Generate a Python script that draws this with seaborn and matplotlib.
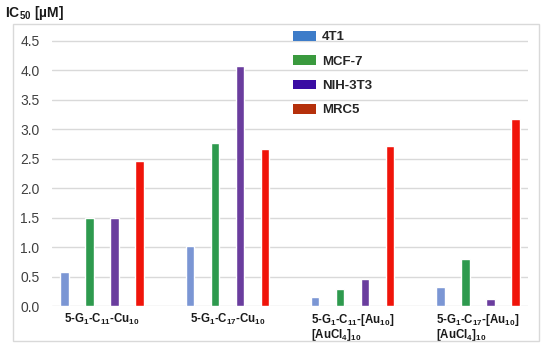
import matplotlib
matplotlib.use("Agg")
import matplotlib.pyplot as plt
import seaborn as sns
import pandas as pd
from matplotlib.patches import Patch, Rectangle

compounds = [
    "5-G$_1$-C$_{11}$-Cu$_{10}$",
    "5-G$_1$-C$_{17}$-Cu$_{10}$",
    "5-G$_1$-C$_{11}$-[Au$_{10}$]\n[AuCl$_4$]$_{10}$",
    "5-G$_1$-C$_{17}$-[Au$_{10}$]\n[AuCl$_4$]$_{10}$",
]
cell_lines = ["4T1", "MCF-7", "NIH-3T3", "MRC5"]
ic50_4t1 = [0.58, 1.02, 0.15, 0.32]
ic50_mcf7 = [1.50, 2.76, 0.29, 0.80]
ic50_nih3t3 = [1.50, 4.08, 0.46, 0.12]
ic50_mrc5 = [2.47, 2.67, 2.72, 3.18]
y_ticks = [0.0, 0.5, 1.0, 1.5, 2.0, 2.5, 3.0, 3.5, 4.0, 4.5]

bar_colors = ["#7b96d4", "#2e9a4e", "#6a3d9e", "#f0140a"]
legend_colors = ["#3d7cc9", "#3a9a3e", "#3a0ca3", "#b5300b"]

rows = []
for line, vals in zip(cell_lines, [ic50_4t1, ic50_mcf7, ic50_nih3t3, ic50_mrc5]):
    for c, v in zip(compounds, vals):
        rows.append({"compound": c, "line": line, "value": v})
df = pd.DataFrame(rows)

sns.set_theme(style="white")
plt.rcParams["font.family"] = ["Liberation Sans", "DejaVu Sans"]
plt.rcParams["mathtext.default"] = "regular"

fig = plt.figure(figsize=(5.5, 3.46), dpi=100)
ax = fig.add_axes([52 / 550, 1 - 306 / 346, (528 - 52) / 550, (306 - 38) / 346])

sns.barplot(data=df, x="compound", y="value", hue="line", order=compounds,
            hue_order=cell_lines, palette=bar_colors, width=0.8, gap=0.66,
            saturation=1, legend=False, ax=ax)

ax.set_xlim(-0.4, 3.4)
ax.set_ylim(0, 4.55)
ax.set_yticks(y_ticks)
ax.set_yticklabels([f"{t:.1f}" for t in y_ticks], fontsize=10, color="#404040")
ax.yaxis.grid(True, color="#d9d9d9", linewidth=1)
ax.set_axisbelow(True)
for s in ax.spines.values():
    s.set_visible(False)
ax.tick_params(axis="y", length=0, pad=9)
ax.tick_params(axis="x", length=0, pad=4)
for lab in ax.get_xticklabels():
    lab.set_fontsize(8.3)
    lab.set_fontweight("bold")
    lab.set_multialignment("left")
    lab.set_linespacing(0.95)
    lab.set_color("#1a1a1a")
ax.set_xlabel("")
ax.set_ylabel("")

fig.text(5 / 550, 1 - 13 / 346, "IC$_{50}$ [µM]", fontsize=10, fontweight="bold",
         va="center", ha="left", color="#1a1a1a")

handles = [Patch(facecolor=c, edgecolor="none", label=l) for c, l in zip(legend_colors, cell_lines)]
fig.legend(handles=handles, loc="upper left", bbox_to_anchor=(293 / 550, 1 - 31 / 346),
           frameon=False, borderpad=0, borderaxespad=0, handlelength=1.75,
           handleheight=0.75, handletextpad=0.45, labelspacing=0.9,
           prop={"size": 9.5, "weight": "bold"})

fig.patches.append(Rectangle((13 / 550, 1 - 341 / 346), (539 - 13) / 550, (341 - 24) / 346,
                             transform=fig.transFigure, fill=False, edgecolor="#d9d9d9",
                             linewidth=1))

fig.savefig("out.png", dpi=100)
